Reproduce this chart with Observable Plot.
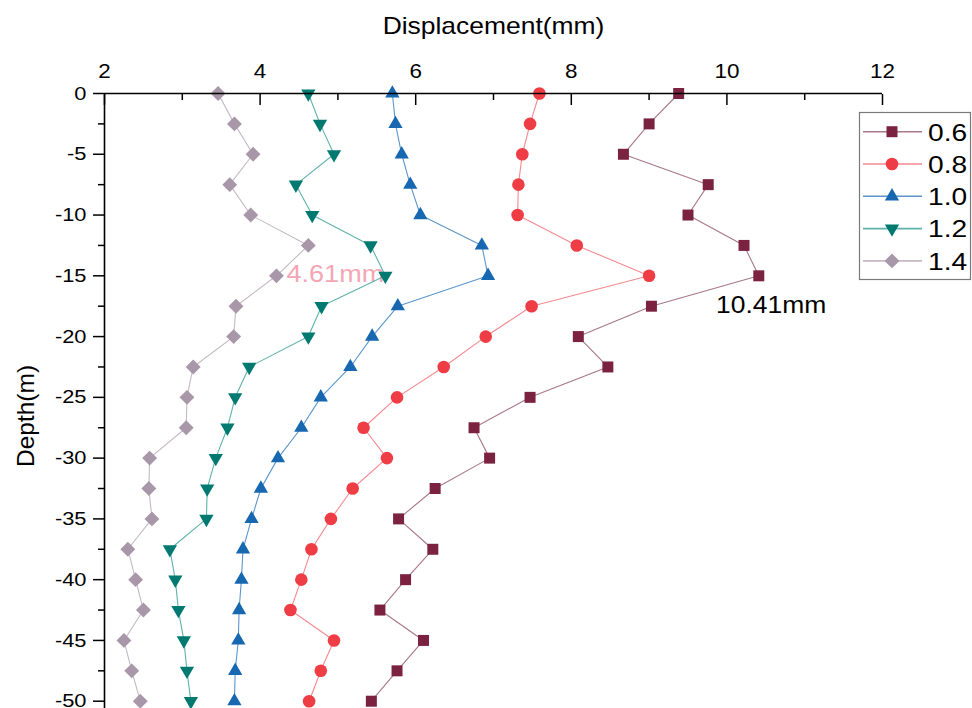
<!DOCTYPE html>
<html><head><meta charset="utf-8">
<script src="https://cdn.jsdelivr.net/npm/d3@7"></script>
<script src="https://cdn.jsdelivr.net/npm/@observablehq/plot@0.6"></script>
<style>
html,body{margin:0;padding:0;background:#fff}
#chart{width:972px;height:708px;overflow:hidden}
</style>
</head><body><div id="chart"></div>
<script>
// ---- data ----
const depth = [0,-2.5,-5,-7.5,-10,-12.5,-15,-17.5,-20,-22.5,-25,-27.5,-30,-32.5,-35,-37.5,-40,-42.5,-45,-47.5,-50];
const seriesNames = ["0.6","0.8","1.0","1.2","1.4"];
const disp06 = [9.38,9.00,8.67,9.76,9.50,10.22,10.41,9.03,8.09,8.47,7.47,6.75,6.95,6.25,5.78,6.22,5.87,5.54,6.10,5.76,5.43];
const disp08 = [7.59,7.47,7.37,7.32,7.31,8.07,9.00,7.49,6.90,6.36,5.76,5.33,5.63,5.19,4.91,4.66,4.53,4.39,4.95,4.78,4.63];
const disp10 = [5.70,5.74,5.82,5.93,6.06,6.85,6.93,5.77,5.44,5.16,4.78,4.53,4.23,4.01,3.89,3.78,3.76,3.73,3.72,3.68,3.67];
const disp12 = [4.62,4.77,4.95,4.46,4.67,5.42,5.61,4.79,4.62,3.86,3.68,3.58,3.43,3.32,3.31,2.84,2.91,2.95,3.02,3.06,3.11];
const disp14 = [3.46,3.67,3.91,3.61,3.88,4.62,4.21,3.69,3.66,3.14,3.06,3.05,2.58,2.57,2.61,2.30,2.40,2.50,2.25,2.35,2.46];
const xMajorTicks = [2,4,6,8,10,12];
const xMinorTicks = [3,5,7,9,11];
const yMajorTicks = [0,-5,-10,-15,-20,-25,-30,-35,-40,-45,-50];
const yMinorTicks = [-2.5,-7.5,-12.5,-17.5,-22.5,-27.5,-32.5,-37.5,-42.5,-47.5];
const xTitle = "Displacement(mm)";
const yTitle = "Depth(m)";
const annotations = [
  {label:"4.61mm", x:4.34, y:-15.53, color:"#F4A6B4"},
  {label:"10.41mm", x:9.86, y:-18.1, color:"#000000"}
];

// ---- styles ----
const styles = [
  {symbol:"square",   fill:"#7A2240", line:"#A8778A", r:6.2, rotate:0},
  {symbol:"circle",   fill:"#EF3D46", line:"#F48A90", r:6.3, rotate:0},
  {symbol:"triangle", fill:"#1767B1", line:"#5C96CC", r:5.3, rotate:0},
  {symbol:"triangle", fill:"#007A71", line:"#5FB2AB", r:5.3, rotate:180},
  {symbol:"diamond2", fill:"#A897A8", line:"#C6B8C5", r:6.7, rotate:0}
];
const allSeries = [disp06, disp08, disp10, disp12, disp14];
const rows = allSeries.flatMap((vals, si) => vals.map((v, i) => ({series: seriesNames[si], x: v, depth: depth[i]})));

const FONT = "'Liberation Sans', Arial, sans-serif";
const TEXT_SX = 1.15;

const lineMarks = seriesNames.map((name, si) => {
  const st = styles[si];
  const sub = rows.filter(d => d.series === name);
  return Plot.line(sub, {x: "x", y: "depth", stroke: st.line, strokeWidth: 1.1});
});
const dotMarks = seriesNames.map((name, si) => {
  const st = styles[si];
  const sub = rows.filter(d => d.series === name);
  return Plot.dot(sub, {x: "x", y: "depth", symbol: st.symbol, r: st.r, fill: st.fill, stroke: "none", rotate: st.rotate});
});

const plot = Plot.plot({
  width: 972, height: 708,
  marginTop: 93, marginLeft: 104, marginRight: 90, marginBottom: 0,
  x: {domain: [2, 12], axis: null},
  y: {domain: [-50.6, 0], axis: null},
  style: {fontFamily: FONT, background: "#fff", color: "#000", overflow: "visible"},
  marks: [
    Plot.text(annotations.slice(0,1), {x: "x", y: "y", text: "label", fill: "color", textAnchor: "start", lineAnchor: "bottom", fontSize: 23.5}),
    ...lineMarks,
    ...dotMarks,
    Plot.text(annotations.slice(1), {x: "x", y: "y", text: "label", fill: "color", textAnchor: "start", lineAnchor: "bottom", fontSize: 23}),
    Plot.ruleY([0], {stroke: "#000", strokeWidth: 1.6}),
    Plot.ruleX([2], {stroke: "#000", strokeWidth: 1.6}),
    Plot.axisX(xMajorTicks, {anchor: "top", tickSize: -11, fill: "none", strokeWidth: 1.5, label: null}),
    Plot.axisX(xMinorTicks, {anchor: "top", tickSize: -6, fill: "none", strokeWidth: 1.5, label: null}),
    Plot.axisX(xMajorTicks, {anchor: "top", tickSize: 0, tickPadding: 16, fontSize: 19.5, label: null, tickFormat: d => String(d)}),
    Plot.axisY(yMajorTicks, {anchor: "left", tickSize: 11, fill: "none", strokeWidth: 1.5, label: null}),
    Plot.axisY(yMinorTicks, {anchor: "left", tickSize: 6, fill: "none", strokeWidth: 1.5, label: null}),
    Plot.axisY(yMajorTicks, {anchor: "left", tickSize: 0, tickPadding: 18, fontSize: 19, label: null, tickFormat: d => String(d)}),
    Plot.text([xTitle], {frameAnchor: "top", dy: -60, lineAnchor: "bottom", fontSize: 23, text: d => d})
  ]
});
document.getElementById("chart").appendChild(plot);

const svg = d3.select(plot);

// ---- y-axis title (rotated) ----
svg.append("text")
  .attr("transform", "translate(34,416) rotate(-90)")
  .attr("text-anchor", "middle")
  .attr("font-family", FONT).attr("font-size", 24.5).attr("fill", "#000")
  .attr("data-rot", "1")
  .text(yTitle);

// ---- legend ----
const lg = svg.append("g").attr("class", "legend").style("font-family", FONT).attr("text-anchor", "start");
lg.append("rect").attr("x", 859.5).attr("y", 112.5).attr("width", 111).attr("height", 167)
  .attr("fill", "#fff").attr("stroke", "#7a7a7a").attr("stroke-width", 1.2);
const symMap = {square: d3.symbolSquare, circle: d3.symbolCircle, triangle: d3.symbolTriangle, diamond2: d3.symbolDiamond2};
seriesNames.forEach((name, i) => {
  const st = styles[i];
  const y = 131.7 + i * 32.3;
  lg.append("line").attr("x1", 863).attr("x2", 922).attr("y1", y).attr("y2", y)
    .attr("stroke", st.line).attr("stroke-width", 1.6);
  lg.append("path").attr("d", d3.symbol(symMap[st.symbol], Math.PI * st.r * st.r)())
    .attr("transform", `translate(892,${y}) rotate(${st.rotate})`).attr("fill", st.fill);
  lg.append("text").attr("x", 928).attr("y", y).attr("dy", "0.36em").attr("font-size", 24.5)
    .attr("text-anchor", "start").attr("fill", "#000").text(name);
});

// horizontal stretch of (non-rotated) texts to match the reference's wide lettering
if (TEXT_SX !== 1) {
  plot.querySelectorAll("text").forEach(t => {
    if ((t.getAttribute("transform") || "").includes("rotate")) return;
    const bb = t.getBBox();
    const anchor = getComputedStyle(t).textAnchor;
    const ax = anchor === "end" ? bb.x + bb.width : anchor === "middle" ? bb.x + bb.width / 2 : bb.x;
    const ex = t.getAttribute("transform") || "";
    t.setAttribute("transform", `${ex} translate(${ax},0) scale(${TEXT_SX},1) translate(${-ax},0)`);
  });
}
</script></body></html>
